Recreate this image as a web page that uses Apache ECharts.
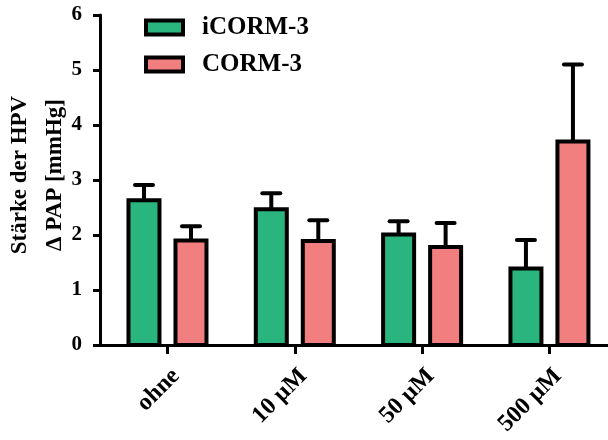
<!DOCTYPE html>
<html>
<head>
<meta charset="utf-8">
<script src="https://cdn.jsdelivr.net/npm/echarts@6/dist/echarts.min.js"></script>
<style>
  html, body { margin: 0; padding: 0; background: #fff; }
  #chart { width: 608px; height: 440px; }
</style>
</head>
<body>
<div id="chart"></div>
<script>
// Treatment groups on the x axis
const categories = ['ohne', '10 µM', '50 µM', '500 µM'];
// Mean HPV strength (Δ PAP, mmHg) and SEM per group
const icormMean = [2.63, 2.47, 2.01, 1.39];
const icormSem  = [0.28, 0.29, 0.24, 0.52];
const cormMean  = [1.90, 1.89, 1.78, 3.70];
const cormSem   = [0.26, 0.38, 0.44, 1.40];
// Y axis range and step
const yMin = 0, yMax = 6, yStep = 1;

const FONT = '"Liberation Serif", "Times New Roman", serif';
const GREEN = '#29b57d';
const RED = '#f27f7f';
const BAR_W = 31;      // bar fill width in px
const BAR_GAP = 16;    // gap between the two bars of a group in px
const HALF_SHIFT = (BAR_W + BAR_GAP) / 2;

// Bar with black outline plus an upward-only SEM whisker with cap
function barWithError(shift, fill) {
  return function (params, api) {
    const x = api.value(0);
    const zero = api.coord([x, 0]);
    const mean = api.coord([x, api.value(1)]);
    const upper = api.coord([x, api.value(2)]);
    const cx = zero[0] + shift;
    return {
      type: 'group',
      children: [
        { type: 'rect',
          shape: { x: cx - BAR_W / 2, y: mean[1], width: BAR_W, height: zero[1] - mean[1] },
          style: { fill: fill, stroke: '#000', lineWidth: 4 } },
        { type: 'line', shape: { x1: cx, y1: mean[1], x2: cx, y2: upper[1] },
          style: { stroke: '#000', lineWidth: 4 } },
        { type: 'line', shape: { x1: cx - 9, y1: upper[1], x2: cx + 9, y2: upper[1] },
          style: { stroke: '#000', lineWidth: 4, lineCap: 'round' } }
      ]
    };
  };
}

const chart = echarts.init(document.getElementById('chart'), null, { renderer: 'canvas' });

chart.setOption({
  animation: false,
  backgroundColor: '#fff',
  grid: { left: 100, right: 0, top: 15, bottom: 95, containLabel: false, outerBoundsMode: 'none' },
  legend: {
    data: ['iCORM-3', 'CORM-3'],
    orient: 'vertical',
    left: 139,
    top: 10,
    icon: 'rect',
    itemWidth: 37,
    itemHeight: 14,
    itemGap: 12,
    itemStyle: { borderColor: '#000', borderWidth: 4 },
    textStyle: {
      fontFamily: FONT, fontWeight: 'bold', fontSize: 25, color: '#000',
      lineHeight: 25, padding: [0, 0, 0, 14]
    }
  },
  xAxis: {
    type: 'value',
    min: -0.53,
    max: 3.46,
    splitLine: { show: false },
    axisLine: { show: true, onZero: false, lineStyle: { color: '#000', width: 3 } },
    axisTick: { show: true, length: 9, customValues: [0, 1, 2, 3],
      lineStyle: { color: '#000', width: 3 } },
    axisLabel: {
      customValues: [0, 1, 2, 3],
      formatter: function (v) { return categories[Math.round(v)]; },
      rotate: 45, margin: 19, verticalAlign: 'top',
      fontFamily: FONT, fontWeight: 'bold', fontSize: 24, color: '#000'
    }
  },
  yAxis: {
    type: 'value',
    min: yMin, max: yMax, interval: yStep,
    name: 'Stärke der HPV\nΔ PAP [mmHg]',
    nameLocation: 'middle',
    nameRotate: 90,
    nameGap: 27,
    nameMoveOverlap: false,
    nameTextStyle: {
      fontFamily: FONT, fontWeight: 'bold', fontSize: 23, color: '#000',
      lineHeight: 35, padding: [0, 0, 0, 10]
    },
    splitLine: { show: false },
    axisLine: { show: true, onZero: false, lineStyle: { color: '#000', width: 3 } },
    axisTick: { show: true, length: 7, lineStyle: { color: '#000', width: 3 } },
    axisLabel: {
      margin: 18,
      fontFamily: FONT, fontWeight: 'bold', fontSize: 21, color: '#000'
    }
  },
  series: [
    {
      name: 'iCORM-3', type: 'custom',
      data: icormMean.map((v, i) => [i, v, v + icormSem[i]]),
      encode: { x: 0, y: [1, 2] },
      renderItem: barWithError(-HALF_SHIFT, GREEN),
      itemStyle: { color: GREEN },
      z: 2
    },
    {
      name: 'CORM-3', type: 'custom',
      data: cormMean.map((v, i) => [i, v, v + cormSem[i]]),
      encode: { x: 0, y: [1, 2] },
      renderItem: barWithError(HALF_SHIFT, RED),
      itemStyle: { color: RED },
      z: 2
    }
  ]
});
</script>
</body>
</html>
